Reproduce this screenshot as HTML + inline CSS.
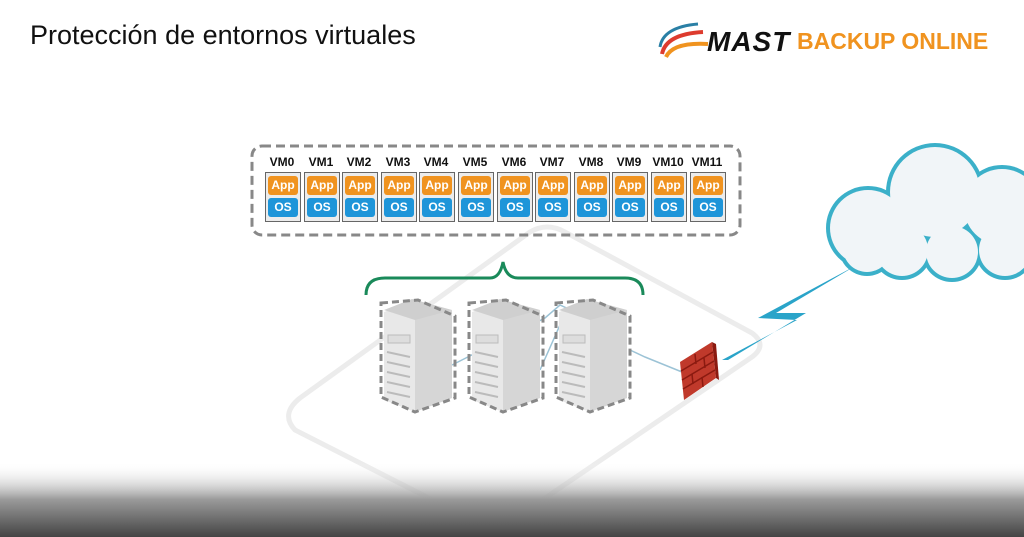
<!DOCTYPE html>
<html><head><meta charset="utf-8"><style>
body{margin:0;width:1024px;height:537px;overflow:hidden;background:#fff;font-family:"Liberation Sans",sans-serif;position:relative}
.t{position:absolute;left:30px;top:20px;font-size:27px;color:#111}
.vm{position:absolute;top:155px;width:36px;text-align:center;font-weight:bold;font-size:12px;color:#111}
.cell{position:absolute;top:172px;width:34px;height:48px;border:1px solid #666;background:#ececec}
.app{position:absolute;left:2px;top:3px;width:30px;height:19px;background:#f0931f;border-radius:3px;color:#fff;font-weight:bold;font-size:12px;text-align:center;line-height:19px}
.os{position:absolute;left:2px;top:25px;width:30px;height:19px;background:#1e95d9;border-radius:3px;color:#fff;font-weight:bold;font-size:12px;text-align:center;line-height:19px}
</style></head><body>
<svg width="1024" height="537" style="position:absolute;left:0;top:0">
<defs><linearGradient id="g" x1="0" y1="0" x2="0" y2="1"><stop offset="0" stop-color="#fff" stop-opacity="0"/><stop offset="0.5" stop-color="#9a9a9a"/><stop offset="1" stop-color="#444"/></linearGradient></defs>
<path d="M300 398 L530 232 Q547 222 565 232 L752 333 Q768 345 752 357 L510 522 Q495 532 478 523 L295 430 Q280 414 300 398Z" fill="none" stroke="#ececec" stroke-width="5"/>
<path d="M452 365 L545 318 L560 305 L575 312 L560 325 L540 370 M630 350 L645 357 L682 372" fill="none" stroke="#9cc3d6" stroke-width="1.5"/>
<rect x="252" y="146" width="488" height="89" rx="10" fill="none" stroke="#888" stroke-width="3" stroke-dasharray="9,5"/>
<path d="M366 295 Q366 278 385 278 L490 278 Q500 278 503 262 Q506 278 518 278 L625 278 Q643 278 643 295" fill="none" stroke="#1a8a5a" stroke-width="3"/>
<g id="srv">
<path d="M384 312 L412 302 L452 312 L452 398 L415 412 L384 400Z" fill="#e8e8e8"/>
<path d="M415 318 L452 310 L452 398 L415 412Z" fill="#d6d6d6"/>
<path d="M384 310 L412 299 L452 310 L415 320Z" fill="#cfcfcf"/>
<rect x="388" y="335" width="22" height="8" fill="#ddd" stroke="#bbb"/>
<g stroke="#bbb" stroke-width="2"><line x1="387" y1="352" x2="410" y2="357"/><line x1="387" y1="362" x2="410" y2="367"/><line x1="387" y1="372" x2="410" y2="377"/><line x1="387" y1="382" x2="410" y2="387"/><line x1="387" y1="392" x2="410" y2="397"/></g>
<path d="M381 303 L418 300 L455 316 L455 398 L415 412 L381 397Z" fill="none" stroke="#888" stroke-width="3" stroke-dasharray="7,4"/>
</g>
<use href="#srv" x="88"/><use href="#srv" x="175"/>
<path d="M680 362 L712 342 L716 378 L684 400Z" fill="#c0392b"/>
<path d="M712 342 L716 344 L719 380 L716 378Z" fill="#8b1a10"/>
<g stroke="#8b1a10" stroke-width="1.5"><line x1="681" y1="371" x2="713" y2="352"/><line x1="682" y1="380" x2="714" y2="361"/><line x1="683" y1="389" x2="715" y2="370"/><line x1="695" y1="354" x2="696" y2="364"/><line x1="704" y1="358" x2="705" y2="368"/><line x1="692" y1="374" x2="693" y2="384"/><line x1="702" y1="377" x2="703" y2="387"/></g>
<polygon points="857,265 758,318 797,320 722,360 728,360 806,313 776,313" fill="#2aa4c9"/>
<g fill="#3bb0c9">
<circle cx="868" cy="228" r="42"/><circle cx="935" cy="192" r="49"/><circle cx="1002" cy="207" r="42"/><circle cx="902" cy="250" r="30"/><circle cx="952" cy="252" r="30"/><circle cx="1005" cy="250" r="30"/><circle cx="867" cy="248" r="28"/>
</g>
<g fill="#f1f5f8">
<circle cx="868" cy="228" r="38"/><circle cx="935" cy="192" r="45"/><circle cx="1002" cy="207" r="38"/><circle cx="902" cy="250" r="26"/><circle cx="952" cy="252" r="26"/><circle cx="1005" cy="250" r="26"/><circle cx="867" cy="248" r="24"/>
</g>
<rect x="0" y="462" width="1024" height="75" fill="url(#g)"/>
<g transform="translate(658,22)">
<path d="M40 2 Q5 5 2 25" fill="none" stroke="#2a7fa5" stroke-width="3"/>
<path d="M45 10 Q8 12 4 32" fill="none" stroke="#dd3b2e" stroke-width="4"/>
<path d="M50 22 Q15 20 8 35" fill="none" stroke="#f0931f" stroke-width="4"/>
</g>
</svg>
<div class="t">Protección de entornos virtuales</div>
<div style="position:absolute;left:707px;top:26px;font-size:28px;font-weight:900;font-style:italic;color:#111;letter-spacing:1px">MAST</div>
<div style="position:absolute;left:797px;top:28px;font-size:23px;font-weight:bold;color:#f0931f">BACKUP ONLINE</div>
<div class="vm" style="left:264px">VM0</div><div class="cell" style="left:265px"><div class="app">App</div><div class="os">OS</div></div>
<div class="vm" style="left:303px">VM1</div><div class="cell" style="left:304px"><div class="app">App</div><div class="os">OS</div></div>
<div class="vm" style="left:341px">VM2</div><div class="cell" style="left:342px"><div class="app">App</div><div class="os">OS</div></div>
<div class="vm" style="left:380px">VM3</div><div class="cell" style="left:381px"><div class="app">App</div><div class="os">OS</div></div>
<div class="vm" style="left:418px">VM4</div><div class="cell" style="left:419px"><div class="app">App</div><div class="os">OS</div></div>
<div class="vm" style="left:457px">VM5</div><div class="cell" style="left:458px"><div class="app">App</div><div class="os">OS</div></div>
<div class="vm" style="left:496px">VM6</div><div class="cell" style="left:497px"><div class="app">App</div><div class="os">OS</div></div>
<div class="vm" style="left:534px">VM7</div><div class="cell" style="left:535px"><div class="app">App</div><div class="os">OS</div></div>
<div class="vm" style="left:573px">VM8</div><div class="cell" style="left:574px"><div class="app">App</div><div class="os">OS</div></div>
<div class="vm" style="left:611px">VM9</div><div class="cell" style="left:612px"><div class="app">App</div><div class="os">OS</div></div>
<div class="vm" style="left:650px">VM10</div><div class="cell" style="left:651px"><div class="app">App</div><div class="os">OS</div></div>
<div class="vm" style="left:689px">VM11</div><div class="cell" style="left:690px"><div class="app">App</div><div class="os">OS</div></div>
</body></html>
